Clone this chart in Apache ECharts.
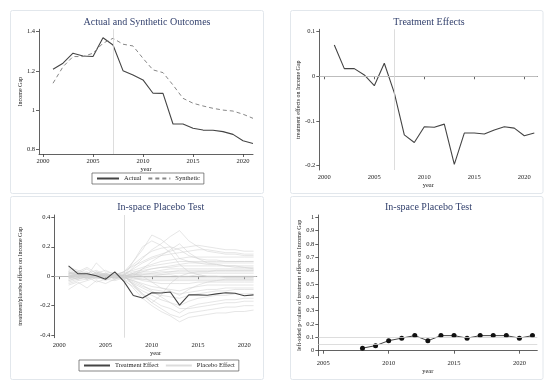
<!DOCTYPE html>
<html><head><meta charset="utf-8">
<script src="https://cdn.jsdelivr.net/npm/echarts@6/dist/echarts.min.js"></script>
<style>html,body{margin:0;padding:0;background:#fff}#c{width:550px;height:390px}</style>
</head><body><div id="c"></div>
<script>
// ---------- data ----------
const years = [2001,2002,2003,2004,2005,2006,2007,2008,2009,2010,2011,2012,2013,2014,2015,2016,2017,2018,2019,2020,2021];
const actual    = [1.208,1.239,1.290,1.276,1.273,1.369,1.332,1.201,1.179,1.154,1.086,1.085,0.929,0.929,0.907,0.898,0.897,0.890,0.876,0.844,0.830];
const synthetic = [1.137,1.221,1.273,1.273,1.290,1.341,1.366,1.336,1.327,1.264,1.205,1.191,1.128,1.060,1.035,1.021,1.009,1.000,0.995,0.979,0.958];
const treatment = [0.070,0.017,0.017,0.003,-0.021,0.029,-0.037,-0.131,-0.148,-0.113,-0.114,-0.107,-0.197,-0.127,-0.127,-0.129,-0.120,-0.113,-0.116,-0.133,-0.127];
const pYears  = [2008,2009,2010,2011,2012,2013,2014,2015,2016,2017,2018,2019,2020,2021];
const pValues = [0.019,0.038,0.075,0.094,0.113,0.075,0.113,0.113,0.094,0.113,0.113,0.113,0.094,0.113];
const xTicks12 = [2000,2005,2010,2015,2020];
const xTicks4  = [2005,2010,2015,2020];
const yTicks1 = [0.8,1,1.2,1.4];
const yTicks2 = [-0.2,-0.1,0,0.1];
const yTicks3 = [-0.4,-0.2,0,0.2,0.4];
const yTicks4 = [0,0.1,0.2,0.3,0.4,0.5,0.6,0.7,0.8,0.9,1];
// placebo (in-space) effects, one array per donor unit
const placebo01 = [0.02,0.01,-0.01,0.02,0.00,0.01,0.03,0.10,0.18,0.28,0.25,0.20,0.12,0.10,0.09,0.08,0.08,0.07,0.07,0.06,0.06];
const placebo02 = [-0.03,-0.01,0.02,0.00,0.01,-0.02,0.00,0.06,0.12,0.18,0.22,0.27,0.31,0.24,0.20,0.17,0.16,0.15,0.15,0.14,0.14];
const placebo03 = [0.03,0.01,-0.02,0.01,0.00,0.02,-0.02,-0.08,-0.15,-0.20,-0.24,-0.27,-0.31,-0.28,-0.27,-0.26,-0.25,-0.25,-0.24,-0.24,-0.23];
const placebo04 = [0.05,0.03,0.06,0.02,0.04,0.01,0.03,0.07,0.10,0.13,0.15,0.17,0.19,0.20,0.21,0.20,0.19,0.18,0.18,0.17,0.17];
const placebo05 = [-0.06,-0.04,-0.08,-0.03,-0.05,-0.02,0.01,0.05,0.09,0.12,0.14,0.15,0.16,0.17,0.18,0.18,0.17,0.16,0.16,0.15,0.15];
const placebo06 = [0.00,0.02,0.00,0.03,0.01,0.00,0.02,0.04,0.06,0.08,0.10,0.11,0.12,0.13,0.13,0.13,0.13,0.13,0.13,0.13,0.13];
const placebo07 = [0.01,-0.01,0.01,0.00,-0.01,0.01,0.00,0.02,0.05,0.07,0.08,0.09,0.10,0.10,0.10,0.10,0.10,0.10,0.10,0.10,0.10];
const placebo08 = [-0.02,0.00,0.02,-0.01,0.00,-0.01,0.00,0.01,0.03,0.05,0.06,0.07,0.08,0.09,0.09,0.09,0.09,0.09,0.09,0.09,0.09];
const placebo09 = [0.03,0.00,-0.01,0.01,0.02,0.00,0.01,0.03,0.04,0.05,0.06,0.06,0.07,0.07,0.07,0.07,0.07,0.07,0.07,0.07,0.07];
const placebo10 = [0.00,0.01,0.00,-0.02,0.00,0.01,0.00,0.02,0.03,0.03,0.04,0.05,0.05,0.05,0.05,0.05,0.05,0.05,0.05,0.05,0.05];
const placebo11 = [-0.01,0.00,0.01,0.00,0.01,0.00,-0.01,0.01,0.02,0.02,0.03,0.03,0.04,0.04,0.04,0.04,0.04,0.04,0.04,0.04,0.04];
const placebo12 = [0.02,0.01,0.00,0.01,-0.01,0.00,0.00,0.01,0.01,0.02,0.02,0.03,0.03,0.03,0.03,0.03,0.03,0.03,0.03,0.03,0.03];
const placebo13 = [0.00,0.00,0.01,0.00,0.00,0.01,0.00,0.00,0.01,0.01,0.01,0.02,0.02,0.02,0.02,0.02,0.02,0.02,0.02,0.02,0.02];
const placebo14 = [0.00,-0.01,0.00,0.01,0.00,0.00,0.00,0.00,0.00,0.00,0.01,0.01,0.00,0.00,0.01,0.00,0.00,0.00,0.00,0.00,0.00];
const placebo15 = [-0.01,0.00,-0.01,0.00,0.00,-0.01,0.00,-0.01,-0.01,-0.01,-0.01,-0.01,-0.01,-0.01,-0.01,-0.01,-0.01,-0.01,-0.01,-0.01,-0.01];
const placebo16 = [0.01,0.00,0.00,-0.01,0.00,0.00,-0.01,-0.01,-0.02,-0.02,-0.02,-0.02,-0.02,-0.02,-0.02,-0.02,-0.02,-0.02,-0.02,-0.02,-0.02];
const placebo17 = [-0.03,-0.01,0.00,0.02,0.00,-0.01,0.00,-0.02,-0.02,-0.03,-0.03,-0.03,-0.03,-0.03,-0.03,-0.03,-0.03,-0.03,-0.03,-0.03,-0.03];
const placebo18 = [0.02,0.03,-0.02,0.00,-0.02,0.00,0.01,-0.01,-0.03,-0.04,-0.05,-0.05,-0.05,-0.05,-0.04,-0.04,-0.04,-0.04,-0.04,-0.04,-0.04];
const placebo19 = [-0.04,-0.02,-0.01,0.03,0.00,0.01,-0.01,-0.03,-0.05,-0.07,-0.08,-0.09,-0.10,-0.08,-0.07,-0.06,-0.06,-0.06,-0.06,-0.06,-0.06];
const placebo20 = [0.04,0.02,0.03,-0.01,0.02,-0.01,0.00,-0.04,-0.07,-0.09,-0.10,-0.11,-0.12,-0.11,-0.10,-0.09,-0.09,-0.08,-0.08,-0.08,-0.08];
const placebo21 = [-0.05,-0.03,-0.02,0.00,-0.03,0.00,-0.02,-0.05,-0.08,-0.11,-0.13,-0.14,-0.15,-0.13,-0.12,-0.11,-0.10,-0.10,-0.09,-0.09,-0.09];
const placebo22 = [0.06,0.04,0.02,0.04,0.01,0.02,0.00,-0.06,-0.10,-0.13,-0.16,-0.18,-0.20,-0.17,-0.15,-0.14,-0.13,-0.13,-0.12,-0.12,-0.12];
const placebo23 = [-0.09,-0.05,-0.03,-0.01,-0.02,0.00,-0.03,-0.07,-0.12,-0.16,-0.20,-0.22,-0.25,-0.21,-0.19,-0.18,-0.17,-0.16,-0.16,-0.15,-0.15];
const placebo24 = [0.00,-0.02,0.00,-0.04,-0.02,-0.03,-0.01,-0.03,-0.06,-0.10,-0.14,-0.18,-0.22,-0.22,-0.21,-0.20,-0.19,-0.18,-0.18,-0.17,-0.17];
const placebo25 = [0.03,0.01,0.00,0.09,0.03,0.02,0.00,-0.05,-0.12,-0.18,-0.22,-0.26,-0.28,-0.25,-0.24,-0.23,-0.22,-0.21,-0.21,-0.20,-0.20];
const placebo26 = [-0.02,0.02,0.05,0.00,0.02,0.00,0.03,0.08,0.13,0.17,0.19,0.20,0.18,0.14,0.12,0.11,0.11,0.10,0.10,0.10,0.10];
const placebo27 = [0.01,0.03,0.00,0.02,0.00,0.01,0.00,0.10,0.20,0.24,0.21,0.16,0.08,0.03,0.01,0.00,0.00,-0.01,-0.01,-0.01,-0.01];
const placebo28 = [-0.01,-0.02,0.00,-0.01,0.01,0.00,-0.02,0.00,0.05,0.10,0.14,0.18,0.22,0.16,0.12,0.09,0.08,0.07,0.06,0.06,0.05];
const placebo29 = [0.00,0.01,0.02,0.00,-0.01,0.00,0.01,-0.06,-0.13,-0.18,-0.13,-0.05,0.00,0.02,0.03,0.03,0.04,0.04,0.04,0.04,0.04];
const placebo30 = [0.02,0.00,0.01,-0.01,0.01,-0.02,0.00,0.02,0.00,-0.04,-0.08,-0.10,-0.13,-0.09,-0.06,-0.04,-0.03,-0.02,-0.02,-0.02,-0.02];
const placebos = [placebo01,placebo02,placebo03,placebo04,placebo05,placebo06,placebo07,placebo08,placebo09,placebo10,
  placebo11,placebo12,placebo13,placebo14,placebo15,placebo16,placebo17,placebo18,placebo19,placebo20,
  placebo21,placebo22,placebo23,placebo24,placebo25,placebo26,placebo27,placebo28,placebo29,placebo30];

// ---------- styling ----------
const FONT = '"Liberation Serif","Times New Roman",serif';
const AX = '#3a3a3a';
const TXT = '#222';
const TITLE = '#34426e';
const REF = '#d4d4d4';
const pairs = (xs, ys) => xs.map((x, i) => [x, ys[i]]);
const plain = (v) => String(v);

function xAx(gi, min, max, ticks, gap) {
  return {
    type: 'value', gridIndex: gi, min: min, max: max,
    axisLine: { show: true, lineStyle: { color: AX, width: 0.8 } },
    axisTick: { show: true, length: 3, customValues: ticks, lineStyle: { color: AX, width: 0.8 } },
    axisLabel: { customValues: ticks, formatter: plain, fontSize: 6.5, fontFamily: FONT, color: TXT, margin: 4 },
    splitLine: { show: false },
    name: 'year', nameLocation: 'middle', nameGap: gap,
    nameTextStyle: { fontSize: 6.5, fontFamily: FONT, color: TXT }
  };
}
function yAx(gi, min, max, ticks, name, gap) {
  return {
    type: 'value', gridIndex: gi, min: min, max: max,
    axisLine: { show: true, lineStyle: { color: AX, width: 0.8 } },
    axisTick: { show: true, length: 3, customValues: ticks, lineStyle: { color: AX, width: 0.8 } },
    axisLabel: { customValues: ticks, formatter: plain, fontSize: 6.5, fontFamily: FONT, color: TXT, margin: 4 },
    splitLine: { show: false },
    name: name, nameLocation: 'middle', nameGap: gap, nameRotate: 90,
    nameTextStyle: { fontSize: 6, fontFamily: FONT, color: TXT }
  };
}
const refLine = (data) => ({
  silent: true, symbol: 'none', label: { show: false },
  lineStyle: { color: REF, width: 0.8, type: 'solid' }, data: data
});
function titleAt(text, x, y) {
  return { text: text, left: x, top: y, textAlign: 'center', padding: 0,
    textStyle: { fontSize: 10, fontWeight: 'normal', fontFamily: FONT, color: TITLE } };
}
function panel(x, y, w, h) {
  return { type: 'rect', shape: { x: x, y: y, width: w, height: h, r: 2 },
    style: { fill: 'none', stroke: '#e2e7ec', lineWidth: 1 }, silent: true, z: -10 };
}

const series = [
  { name: 'Actual', type: 'line', xAxisIndex: 0, yAxisIndex: 0, data: pairs(years, actual),
    symbol: 'none', lineStyle: { color: '#444', width: 1.1 }, itemStyle: { color: '#444' },
    markLine: refLine([{ xAxis: 2007 }]) },
  { name: 'Synthetic', type: 'line', xAxisIndex: 0, yAxisIndex: 0, data: pairs(years, synthetic),
    symbol: 'none', lineStyle: { color: '#888', width: 1, type: [4, 3] }, itemStyle: { color: '#888' } },
  { name: 'TE', type: 'line', xAxisIndex: 1, yAxisIndex: 1, data: pairs(years, treatment),
    symbol: 'none', lineStyle: { color: '#444', width: 1.1 },
    markLine: refLine([{ xAxis: 2007 }, { yAxis: 0 }]) }
];
placebos.forEach((p, i) => {
  series.push({ name: 'Placebo Effect', type: 'line', xAxisIndex: 2, yAxisIndex: 2, data: pairs(years, p),
    symbol: 'none', lineStyle: { color: '#d0d0d0', width: 0.7, opacity: 0.75 }, itemStyle: { color: '#d8d8d8' },
    z: 1, markLine: i === 0 ? refLine([{ xAxis: 2007 }, { yAxis: 0 }]) : undefined });
});
series.push({ name: 'Treatment Effect', type: 'line', xAxisIndex: 2, yAxisIndex: 2, data: pairs(years, treatment),
  symbol: 'none', lineStyle: { color: '#444', width: 1.1 }, itemStyle: { color: '#444' }, z: 5 });
series.push({ name: 'p', type: 'line', xAxisIndex: 3, yAxisIndex: 3, data: pairs(pYears, pValues),
  symbol: 'circle', symbolSize: 5, lineStyle: { color: '#444', width: 1 }, itemStyle: { color: '#111' },
  markLine: refLine([{ yAxis: 0.1 }, { yAxis: 0.05 }]) });

const legendBase = {
  orient: 'horizontal', itemWidth: 22, itemHeight: 6, itemGap: 6,
  padding: [2, 4, 2, 4], borderColor: '#555', borderWidth: 0.7, borderRadius: 0,
  itemStyle: { opacity: 0 },
  textStyle: { fontSize: 6.5, fontFamily: FONT, color: TXT }, selectedMode: false
};

const option = {
  animation: false,
  backgroundColor: '#fff',
  title: [
    titleAt('Actual and Synthetic Outcomes', 147, 17),
    titleAt('Treatment Effects', 429, 17),
    titleAt('In-space Placebo Test', 160.7, 202),
    titleAt('In-space Placebo Test', 428.5, 202)
  ],
  grid: [
    { left: 39, top: 29.3, width: 214, height: 124.7 },
    { left: 319.3, top: 29.3, width: 218, height: 140.7 },
    { left: 54.3, top: 215, width: 202.4, height: 122.7 },
    { left: 318.3, top: 215, width: 219, height: 140.7 }
  ],
  xAxis: [
    xAx(0, 1999.6, 2021.0, xTicks12, 10.5),
    xAx(1, 1999.5, 2021.3, xTicks12, 10.5),
    xAx(2, 1999.46, 2021.34, xTicks12, 10.5),
    xAx(3, 2004.62, 2021.37, xTicks4, 10.5)
  ],
  yAxis: [
    yAx(0, 0.776, 1.412, yTicks1, 'Income Gap', 15),
    yAx(1, -0.2096, 0.105, yTicks2, 'treatment effects on Income Gap', 17),
    yAx(2, -0.418, 0.416, yTicks3, 'treatment/placebo effects on Income Gap', 31),
    yAx(3, -0.0375, 1.017, yTicks4, 'left-sided p-values of treatment effects on Income Gap', 15)
  ],
  legend: [
    Object.assign({}, legendBase, { data: ['Actual', 'Synthetic'], left: 92, top: 173 }),
    Object.assign({}, legendBase, { data: ['Treatment Effect', 'Placebo Effect'], left: 79, top: 360, itemWidth: 26 })
  ],
  graphic: [
    panel(10.5, 10.5, 253, 183),
    panel(290.5, 10.5, 252.5, 183),
    panel(10.5, 196.5, 253, 183),
    panel(290.5, 196.5, 252.5, 183)
  ],
  series: series
};
const chart = echarts.init(document.getElementById('c'), null, { renderer: 'canvas' });
chart.setOption(option);
</script></body></html>
